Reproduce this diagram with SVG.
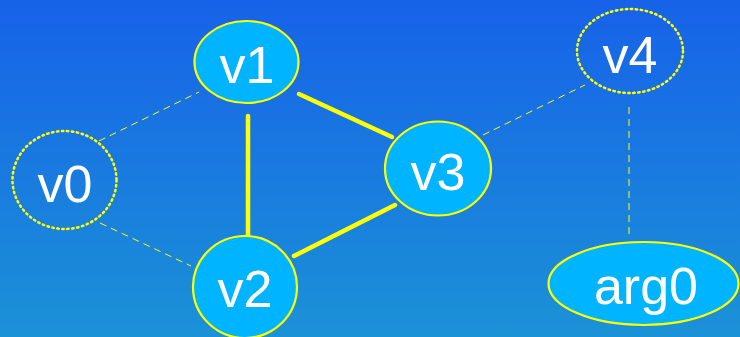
<svg xmlns="http://www.w3.org/2000/svg" width="740" height="337" viewBox="0 0 740 337">
<defs>
<linearGradient id="bg" x1="0" y1="0" x2="0" y2="1">
<stop offset="0" stop-color="#1762E9"/>
<stop offset="1" stop-color="#1B92D6"/>
</linearGradient>
</defs>
<style>
.node{fill:#00B4FF;stroke:#FFFF00;stroke-width:2.2}
.ghost{fill:none;stroke:#FFFF00;stroke-width:2.5;stroke-dasharray:1.5 3.5;stroke-linecap:round}
.lbl{fill:#FFFFFF;font-family:"Liberation Sans",Arial,sans-serif;font-size:52px;text-anchor:middle}
.solid{stroke:#FFFF00;stroke-width:4.5;stroke-linecap:round;fill:none}
.dash{stroke:#FFFF00;stroke-width:1;stroke-dasharray:7 5;fill:none}
</style>
<rect width="740" height="337" fill="url(#bg)"/>
<g id="connectors">
<line class="solid" x1="248" y1="116" x2="248" y2="236"/>
<line class="solid" x1="299" y1="94" x2="392" y2="137"/>
<line class="solid" x1="294" y1="256" x2="395" y2="205"/>
<line class="dash" x1="99" y1="141" x2="199" y2="92"/>
<line class="dash" x1="100" y1="223" x2="191" y2="266"/>
<line class="dash" x1="483" y1="135" x2="585" y2="85"/>
<line class="dash" x1="629" y1="107" x2="629" y2="239"/>
</g>
<g id="v0">
<ellipse class="ghost" cx="64.5" cy="180" rx="52" ry="49"/>
<text class="lbl" x="65" y="202">v0</text>
</g>
<g id="v1">
<ellipse class="node" cx="246.5" cy="62" rx="52" ry="41"/>
<text class="lbl" x="247" y="83">v1</text>
</g>
<g id="v2">
<ellipse class="node" cx="245" cy="287" rx="52" ry="51"/>
<text class="lbl" x="245" y="307">v2</text>
</g>
<g id="v3">
<ellipse class="node" cx="438" cy="168.5" rx="53" ry="47"/>
<text class="lbl" x="438" y="190">v3</text>
</g>
<g id="v4">
<ellipse class="ghost" cx="630" cy="51" rx="53" ry="42"/>
<text class="lbl" x="630" y="73">v4</text>
</g>
<g id="arg0">
<ellipse class="node" cx="643.5" cy="283.5" rx="95" ry="41.5"/>
<text class="lbl" x="646" y="304">arg0</text>
</g>
</svg>
